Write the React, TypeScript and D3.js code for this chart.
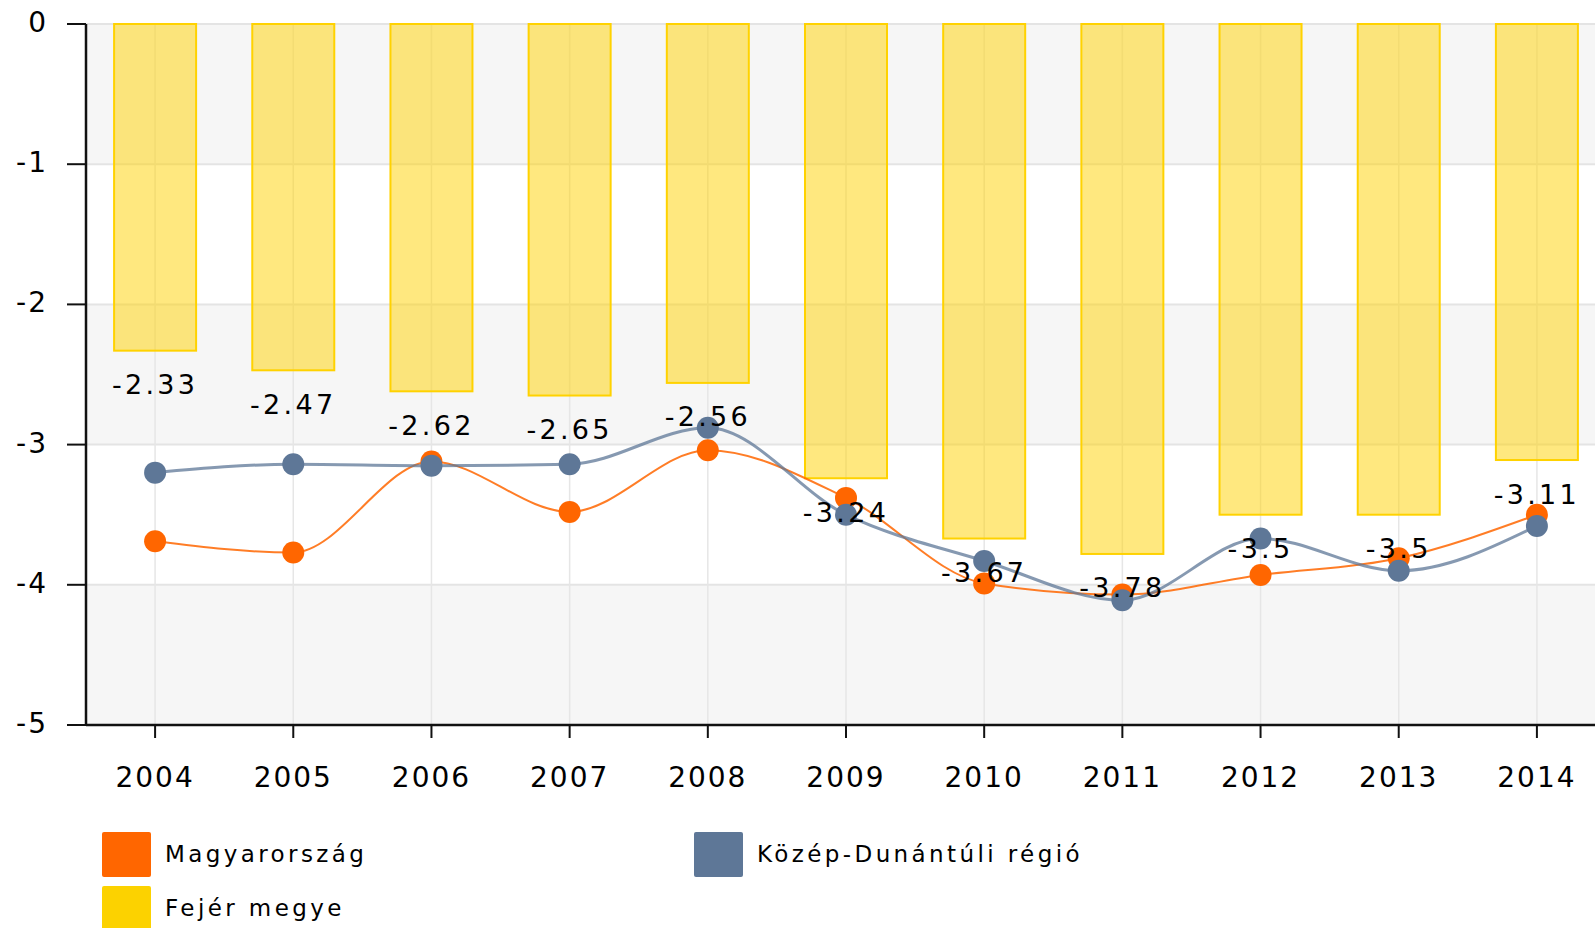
import { useEffect, useRef } from "react";
import * as d3 from "d3";

const YEARS = ["2004", "2005", "2006", "2007", "2008", "2009", "2010", "2011", "2012", "2013", "2014"];
const FEJER = [-2.33, -2.47, -2.62, -2.65, -2.56, -3.24, -3.67, -3.78, -3.5, -3.5, -3.11];
const MAGYAR = [-3.69, -3.77, -3.12, -3.48, -3.04, -3.38, -3.99, -4.07, -3.93, -3.81, -3.5];
const KOZEP = [-3.2, -3.14, -3.15, -3.14, -2.88, -3.5, -3.83, -4.11, -3.67, -3.9, -3.58];
const Y_TICKS = [0, -1, -2, -3, -4, -5];

const LEGEND = [
  { label: "Magyarország", color: "#FF6600", col: 0, row: 0 },
  { label: "Közép-Dunántúli régió", color: "#5E7797", col: 1, row: 0 },
  { label: "Fejér megye", color: "#FCD200", col: 0, row: 1 },
];

const W = 1595;
const H = 928;
const M = { left: 86, top: 24, plotRight: 1606, bottom: 725 };
const FONT = "'DejaVu Sans', Verdana, sans-serif";

export default function App() {
  const svgRef = useRef<SVGSVGElement>(null);

  useEffect(() => {
    document.body.style.margin = "0";
    if (!svgRef.current) return;
    const svg = d3.select(svgRef.current);
    svg.selectAll("*").remove();

    const x = d3.scaleBand().domain(YEARS).range([M.left, M.plotRight]).padding(0);
    const cx = (d: string) => (x(d) as number) + x.bandwidth() / 2;
    const y = d3.scaleLinear().domain([-5, 0]).range([M.bottom, M.top]);

    const g = svg.append("g");

    // alternating bands
    for (let i = 0; i < 5; i++) {
      g.append("rect")
        .attr("x", M.left)
        .attr("y", y(-i))
        .attr("width", M.plotRight - M.left)
        .attr("height", y(-i - 1) - y(-i))
        .attr("fill", i % 2 === 0 ? "#F6F6F6" : "#FFFFFF");
    }

    // horizontal grid
    g.selectAll(".hgrid")
      .data(Y_TICKS)
      .join("line")
      .attr("x1", M.left)
      .attr("x2", M.plotRight)
      .attr("y1", (d) => y(d))
      .attr("y2", (d) => y(d))
      .attr("stroke", "#E4E4E4")
      .attr("stroke-width", 2);

    // vertical grid
    g.selectAll(".vgrid")
      .data(YEARS)
      .join("line")
      .attr("x1", cx)
      .attr("x2", cx)
      .attr("y1", M.top)
      .attr("y2", M.bottom)
      .attr("stroke", "#E6E6E6")
      .attr("stroke-width", 1.5);

    // bars
    const barW = 82;
    g.selectAll(".bar")
      .data(FEJER)
      .join("rect")
      .attr("x", (_d, i) => cx(YEARS[i]) - barW / 2)
      .attr("y", y(0))
      .attr("width", barW)
      .attr("height", (d) => y(d) - y(0))
      .attr("fill", "#FFD200")
      .attr("fill-opacity", 0.5)
      .attr("stroke", "#FFD200")
      .attr("stroke-width", 2);

    // lines
    const series = [
      { vals: MAGYAR, color: "#FF6600", width: 2, op: 0.85 },
      { vals: KOZEP, color: "#5E7797", width: 3, op: 0.75 },
    ];
    series.forEach((s) => {
      const line = d3
        .line<number>()
        .x((_d, i) => cx(YEARS[i]))
        .y((d) => y(d))
        .curve(d3.curveMonotoneX);
      g.append("path")
        .datum(s.vals)
        .attr("d", line)
        .attr("fill", "none")
        .attr("stroke", s.color)
        .attr("stroke-opacity", s.op)
        .attr("stroke-width", s.width);
    });
    series.forEach((s) => {
      g.selectAll(null)
        .data(s.vals)
        .join("circle")
        .attr("cx", (_d, i) => cx(YEARS[i]))
        .attr("cy", (d) => y(d))
        .attr("r", 11)
        .attr("fill", s.color);
    });

    // bar labels
    g.selectAll(".lbl")
      .data(FEJER)
      .join("text")
      .attr("x", (_d, i) => cx(YEARS[i]))
      .attr("y", (d) => y(d) + 36)
      .attr("text-anchor", "middle")
      .attr("dominant-baseline", "middle")
      .attr("font-family", FONT)
      .attr("font-size", 27)
      .attr("letter-spacing", 3.3)
      .attr("fill", "#000")
      .text((d) => String(d));

    // axes
    g.append("line")
      .attr("x1", M.left)
      .attr("x2", M.left)
      .attr("y1", M.top)
      .attr("y2", M.bottom)
      .attr("stroke", "#111")
      .attr("stroke-width", 2.5);
    g.append("line")
      .attr("x1", M.left)
      .attr("x2", W)
      .attr("y1", M.bottom)
      .attr("y2", M.bottom)
      .attr("stroke", "#111")
      .attr("stroke-width", 2.5);

    g.selectAll(".ytick")
      .data(Y_TICKS)
      .join("line")
      .attr("x1", 67)
      .attr("x2", M.left)
      .attr("y1", (d) => y(d))
      .attr("y2", (d) => y(d))
      .attr("stroke", "#111")
      .attr("stroke-width", 2);
    g.selectAll(".ylab")
      .data(Y_TICKS)
      .join("text")
      .attr("x", 48)
      .attr("y", (d) => y(d))
      .attr("text-anchor", "end")
      .attr("dominant-baseline", "middle")
      .attr("font-family", FONT)
      .attr("font-size", 28)
      .attr("letter-spacing", 2)
      .attr("fill", "#000")
      .text((d) => String(d));

    g.selectAll(".xtick")
      .data(YEARS)
      .join("line")
      .attr("x1", cx)
      .attr("x2", cx)
      .attr("y1", M.bottom)
      .attr("y2", M.bottom + 13)
      .attr("stroke", "#111")
      .attr("stroke-width", 2);
    g.selectAll(".xlab")
      .data(YEARS)
      .join("text")
      .attr("x", cx)
      .attr("y", 779)
      .attr("text-anchor", "middle")
      .attr("dominant-baseline", "middle")
      .attr("font-family", FONT)
      .attr("font-size", 28)
      .attr("letter-spacing", 2)
      .attr("fill", "#000")
      .text((d) => d);

    // legend
    const lg = g.selectAll(".leg").data(LEGEND).join("g")
      .attr("transform", (d) => `translate(${d.col === 0 ? 102 : 694},${832 + d.row * 54})`);
    lg.append("rect")
      .attr("width", 49)
      .attr("height", 45)
      .attr("rx", 2)
      .attr("fill", (d) => d.color);
    lg.append("text")
      .attr("x", 63)
      .attr("y", 23)
      .attr("dominant-baseline", "middle")
      .attr("font-family", FONT)
      .attr("font-size", 23)
      .attr("letter-spacing", 3.4)
      .attr("fill", "#000")
      .text((d) => d.label);
  }, []);

  return (
    <svg
      ref={svgRef}
      width={W}
      height={H}
      style={{ display: "block", position: "absolute", left: 0, top: 0, background: "#fff" }}
    />
  );
}
